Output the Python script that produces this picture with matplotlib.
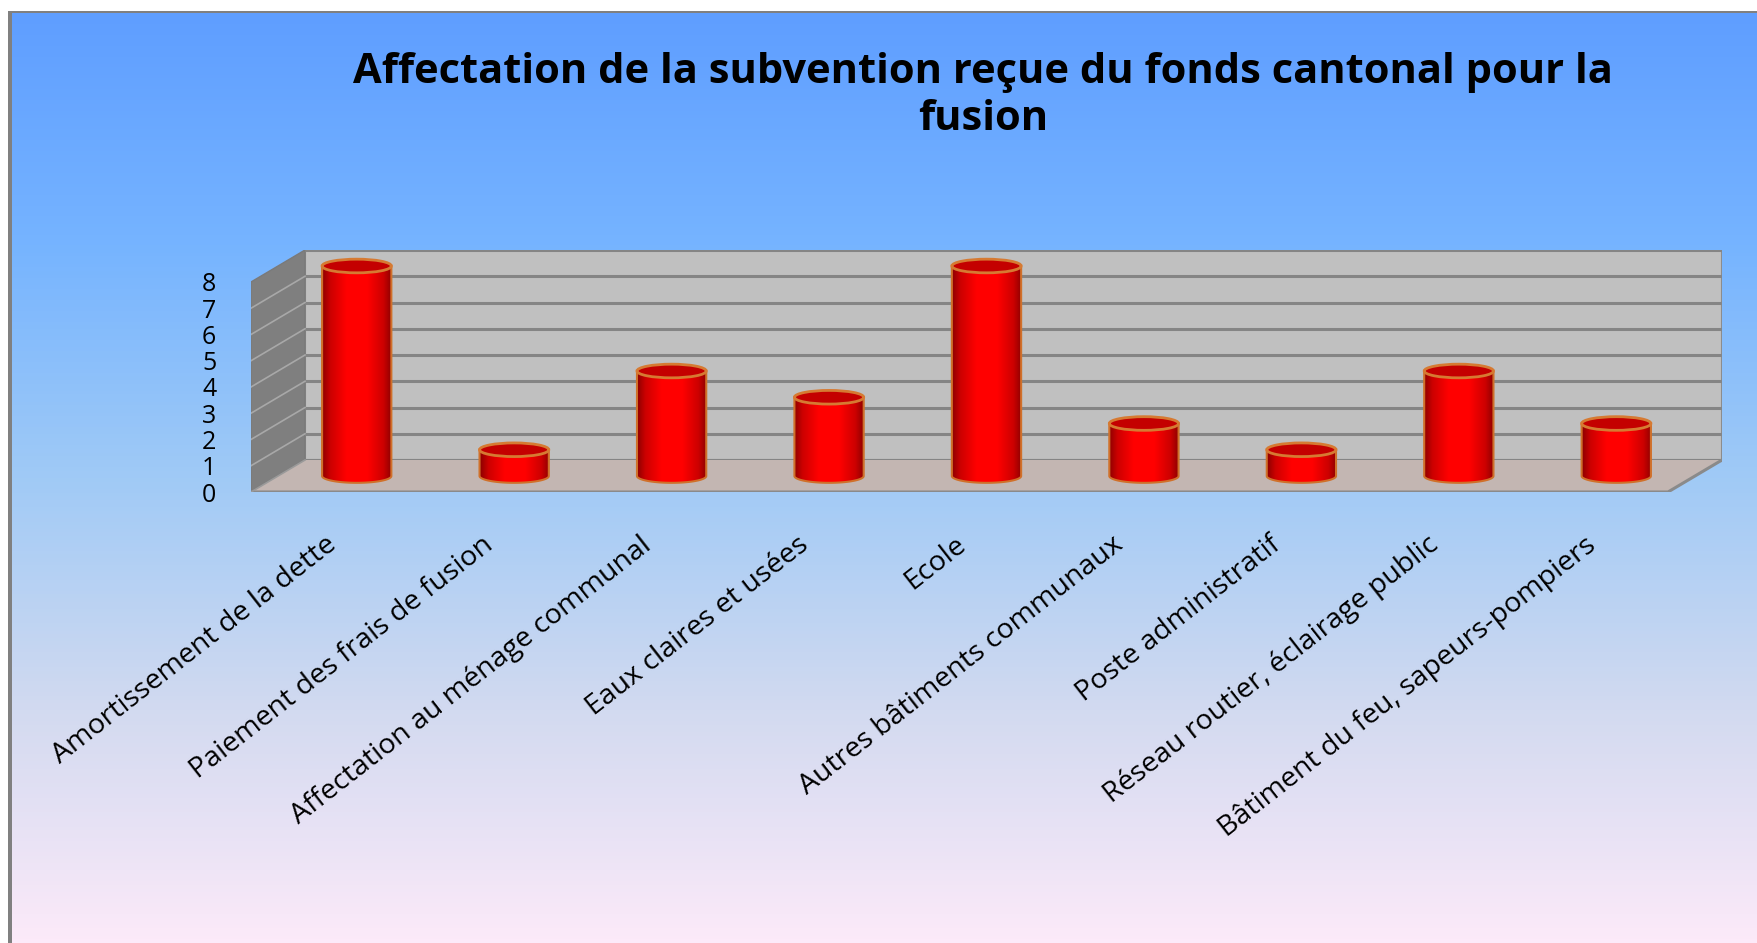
import numpy as np
import matplotlib
matplotlib.use("Agg")
import matplotlib.pyplot as plt
from matplotlib.patches import Polygon, Ellipse, Rectangle
from matplotlib.colors import LinearSegmentedColormap

# ---------------- data ----------------
categories = [
    "Amortissement de la dette",
    "Paiement des frais de fusion",
    "Affectation au ménage communal",
    "Eaux claires et usées",
    "Ecole",
    "Autres bâtiments communaux",
    "Poste administratif",
    "Réseau routier, éclairage public",
    "Bâtiment du feu, sapeurs-pompiers",
]
values = [8, 1, 4, 3, 8, 2, 1, 4, 2]
y_ticks = [0, 1, 2, 3, 4, 5, 6, 7, 8]
title = "Affectation de la subvention reçue du fonds cantonal pour la\nfusion"

plt.rcParams["font.family"] = ["Open Sans", "DejaVu Sans"]

W, H = 1757, 943
fig = plt.figure(figsize=(W / 100, H / 100), dpi=100)
fig.patch.set_facecolor("white")

# ---------------- background gradient ----------------
bg = fig.add_axes([12 / W, 0, 1 - 12 / W, 1 - 13 / H])
bg_cmap = LinearSegmentedColormap.from_list(
    "bg",
    [(0.0, (95/255, 158/255, 255/255)),
     (0.25, (118/255, 180/255, 255/255)),
     (0.5, (160/255, 202/255, 246/255)),
     (0.75, (210/255, 218/255, 240/255)),
     (1.0, (252/255, 234/255, 249/255))])
grad = np.linspace(0, 1, 256).reshape(-1, 1)
bg.imshow(grad, aspect="auto", cmap=bg_cmap, extent=[0, 1, 0, 1], origin="upper")
bg.set_axis_off()
bg.set_zorder(0)

# border
fig.add_artist(Rectangle((8 / W, 0), 4 / W, 1 - 11 / H, transform=fig.transFigure,
                         facecolor="#808080", edgecolor="none", zorder=1))
fig.add_artist(Rectangle((8 / W, 1 - 13 / H), 1 - 8 / W, 2 / H, transform=fig.transFigure,
                         facecolor="#808080", edgecolor="none", zorder=1))

# ---------------- main axes (front plane) ----------------
DX = 0.343   # depth offset in category units
DY = 1.219   # depth offset in value units
n = len(categories)
ymax = max(y_ticks)

ax = fig.add_axes([251 / W, 1 - 492 / H, (1722 - 251) / W, (492 - 250) / H])
ax.set_zorder(2)
ax.patch.set_visible(False)
x0, x1 = -0.5, n - 0.5

# back wall
ax.add_patch(Polygon([(x0 + DX, DY), (x1 + DX, DY), (x1 + DX, ymax + DY), (x0 + DX, ymax + DY)],
                     closed=True, facecolor="#c0c0c0", edgecolor="#8c8c8c", lw=1.5, zorder=1))
for k in y_ticks:
    ax.plot([x0 + DX, x1 + DX], [k + DY, k + DY], color="#858585", lw=2.2, zorder=2,
            solid_capstyle="butt")
# side wall
ax.add_patch(Polygon([(x0, 0), (x0 + DX, DY), (x0 + DX, ymax + DY), (x0, ymax)],
                     closed=True, facecolor="#7f7f7f", edgecolor="#7a7a7a", lw=1, zorder=1))
for k in y_ticks[1:-1]:
    ax.plot([x0, x0 + DX], [k, k + DY], color="#a8a8a8", lw=1.2, zorder=2)
# floor
ax.add_patch(Polygon([(x0, 0), (x1, 0), (x1 + DX, DY), (x0 + DX, DY)],
                     closed=True, facecolor="#c3b6b2", edgecolor="none", zorder=3))
ax.plot([x0, x1, x1 + DX], [0, 0, DY], color="#8a8a8a", lw=2.2, zorder=3)
ax.plot([x0, x0 + DX], [0, DY], color="#9a9a9a", lw=1.2, zorder=3)

# cylinders
body_cmap = LinearSegmentedColormap.from_list(
    "body",
    [(0.0, (0.55, 0, 0)), (0.12, (0.80, 0, 0)), (0.35, (1.0, 0, 0)),
     (0.65, (1.0, 0, 0)), (0.88, (0.80, 0, 0)), (1.0, (0.55, 0, 0))])
bw = 0.44
eb = 0.26   # semi-minor axis of ellipses (value units)
base = DY / 2
hgrad = np.linspace(0, 1, 256).reshape(1, -1)
for i, v in enumerate(values):
    cx = i + DX / 2
    xl, xr = cx - bw / 2, cx + bw / 2
    top = base + v
    t = np.linspace(np.pi, 2 * np.pi, 60)
    arc = np.column_stack([cx + bw / 2 * np.cos(t), base + eb * np.sin(t)])
    pts = np.vstack([[xl, top], arc, [xr, top]])
    body = Polygon(pts, closed=True, facecolor="none", edgecolor="#d0702a", lw=1.5, zorder=5)
    ax.add_patch(body)
    im = ax.imshow(hgrad, cmap=body_cmap, aspect="auto",
                   extent=[xl, xr, base - eb, top], zorder=4, interpolation="bilinear")
    im.set_clip_path(body)
    ax.add_patch(Ellipse((cx, top), bw, 2 * eb, facecolor="#c40000",
                         edgecolor="#d67a32", lw=2, zorder=6))

ax.set_xlim(x0, x1 + DX)
ax.set_ylim(0, ymax + DY)
for s in ax.spines.values():
    s.set_visible(False)

ax.set_yticks(y_ticks)
ax.set_yticklabels([str(t) for t in y_ticks], fontsize=18, color="black")
ax.tick_params(axis="y", length=0, pad=25)

ax.set_xticks(np.arange(n) + 0.02)
ax.set_xticklabels(categories, fontsize=20.5, color="black")
ax.tick_params(axis="x", length=0, pad=36)
plt.setp(ax.get_xticklabels(), rotation=38, ha="right", va="center", rotation_mode="anchor")

# title
fig.text(983 / W, 1 - 96 / H, title, ha="center", va="center", fontsize=30,
         fontweight="bold", color="black", linespacing=1.17)

fig.savefig("out.png", dpi=100)
